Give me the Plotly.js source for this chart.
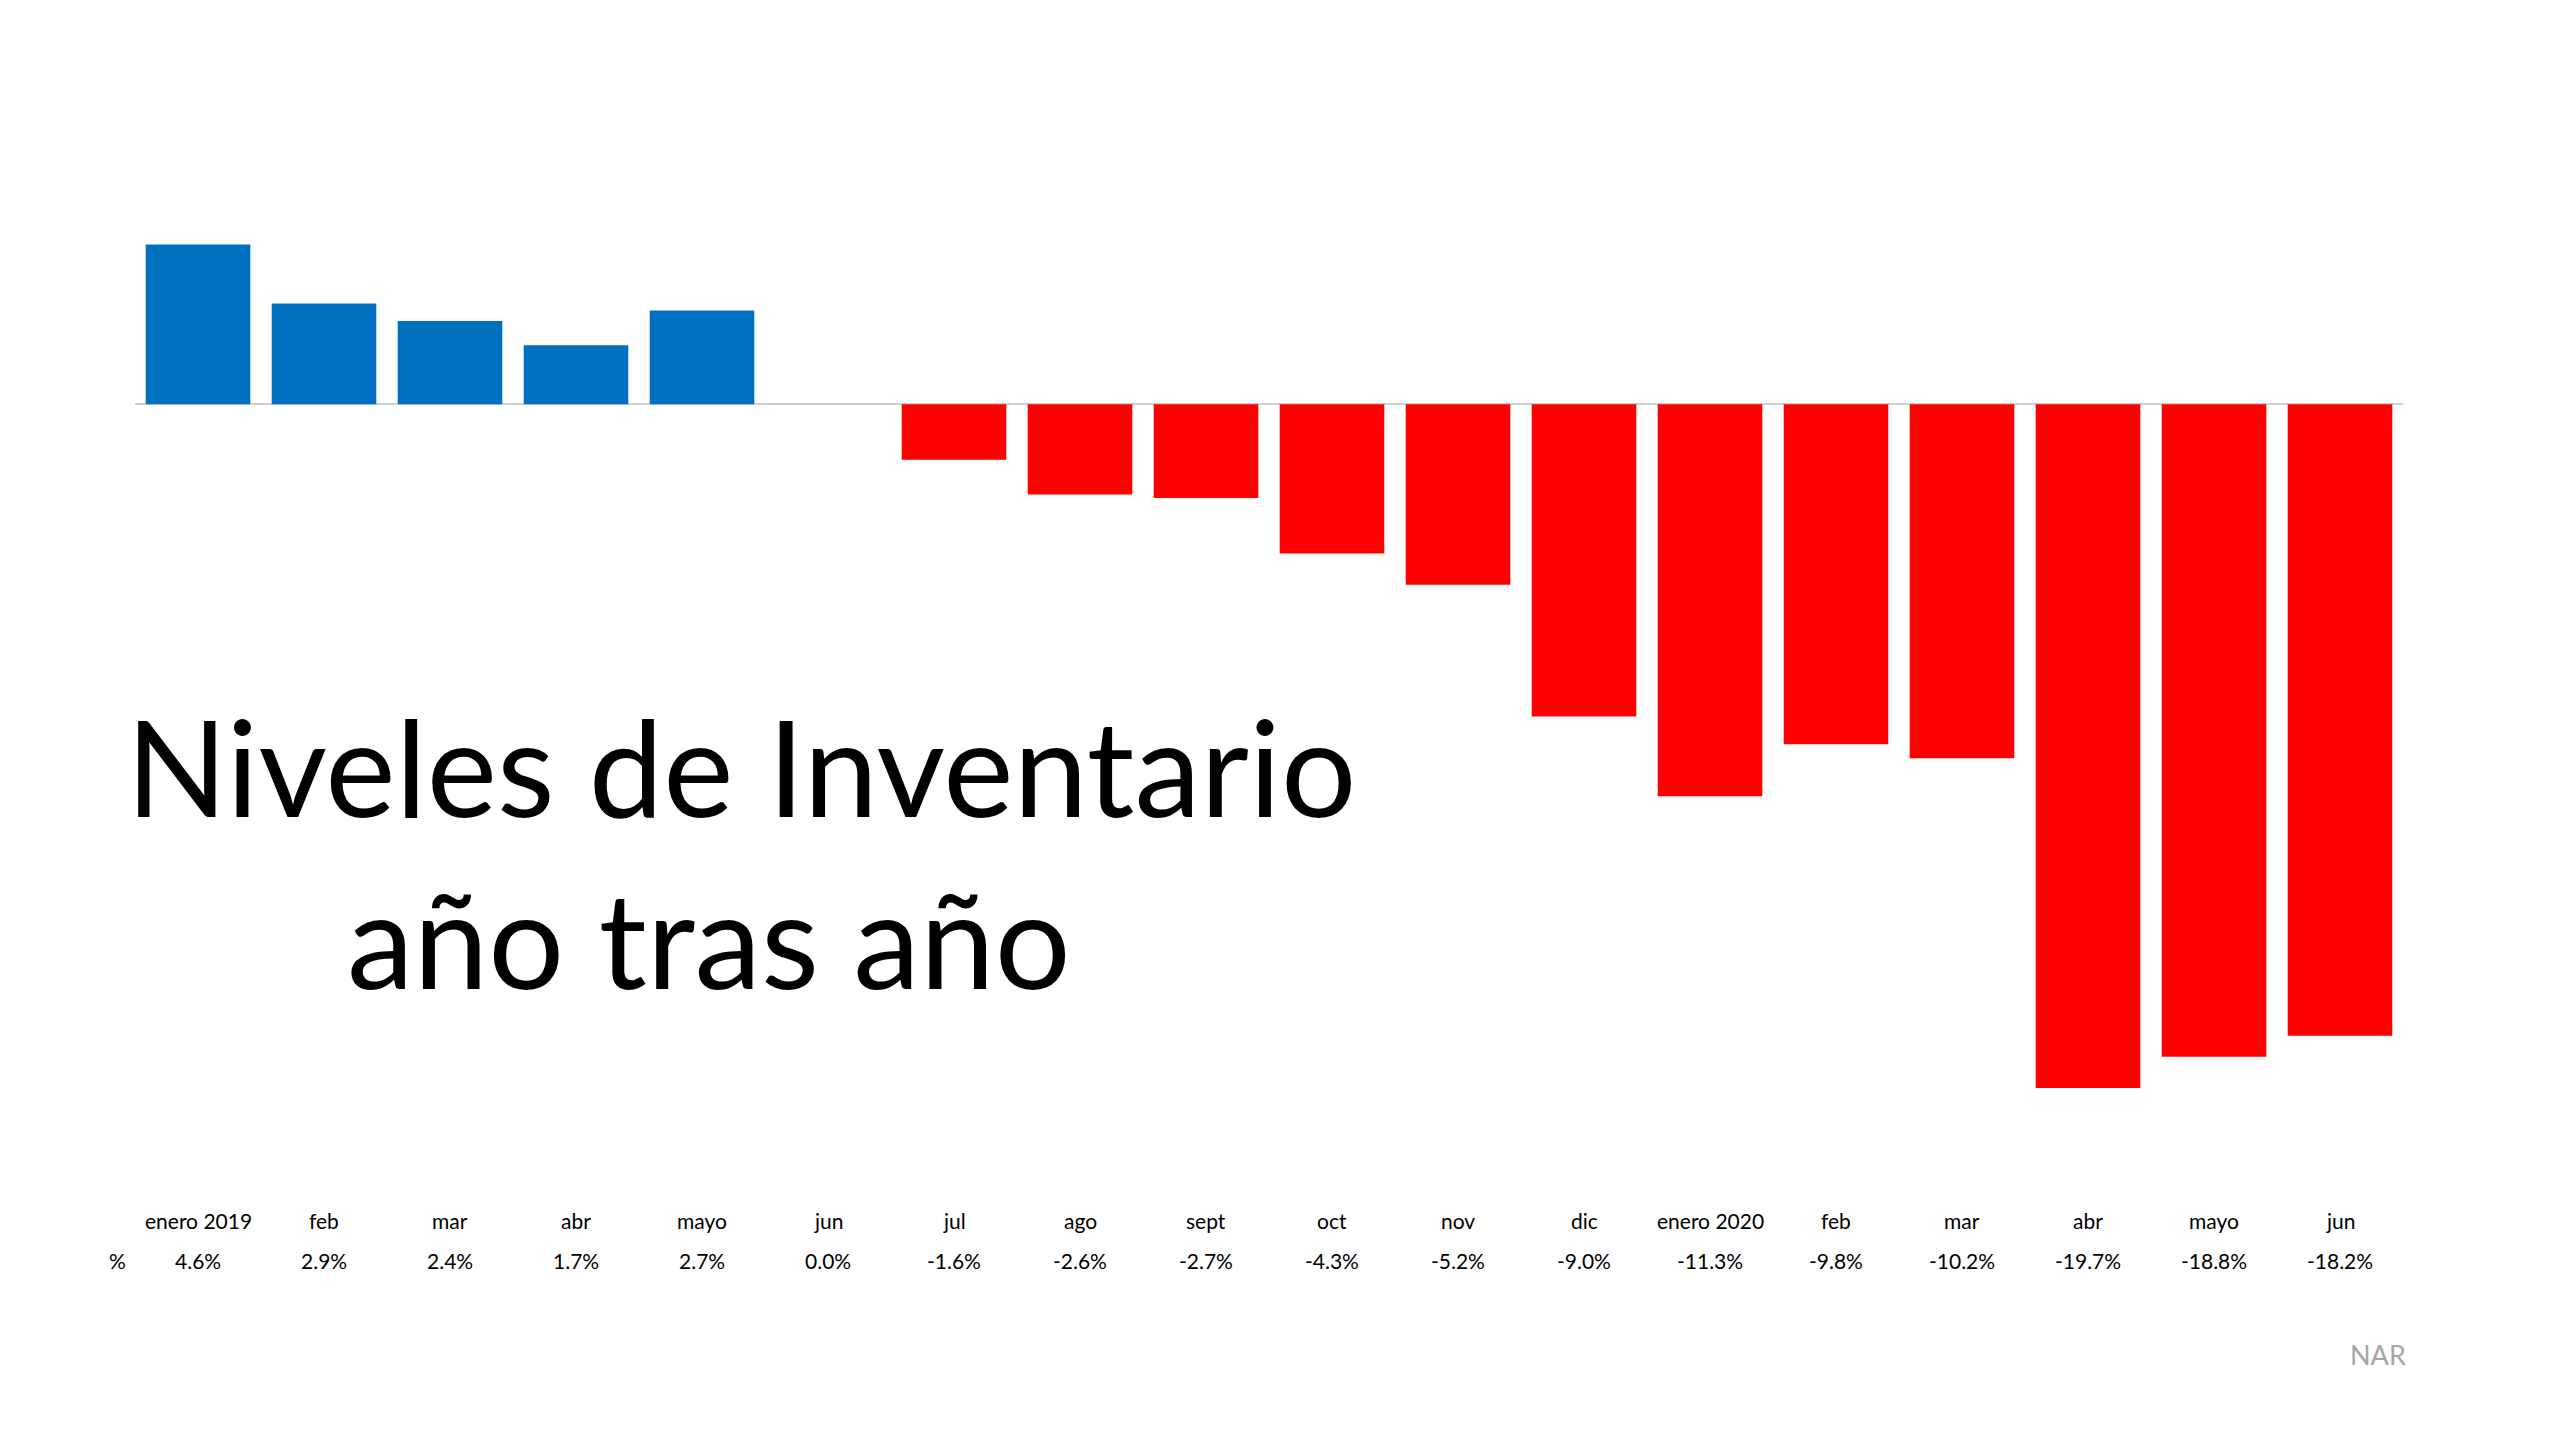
<!DOCTYPE html>
<html>
<head>
<meta charset="utf-8">
<script src="https://cdn.plot.ly/plotly-3.0.1.min.js"></script>
<style>html,body{margin:0;padding:0;background:#fff;}#chart{width:2560px;height:1440px;}</style>
</head>
<body>
<div id="chart"></div>
<script>
const months = ["enero 2019","feb","mar","abr","mayo","jun","jul","ago","sept","oct","nov","dic","enero 2020","feb ","mar ","abr ","mayo ","jun "];
const values = [4.6,2.9,2.4,1.7,2.7,0.0,-1.6,-2.6,-2.7,-4.3,-5.2,-9.0,-11.3,-9.8,-10.2,-19.7,-18.8,-18.2];
const titleLines = ["Niveles de Inventario","año tras año"];
const source = "NAR";
const rowLabel = "%";

const FONT = "Lato, 'Open Sans', sans-serif";
const idx = months.map((m,i)=>i);
const colors = values.map(v => v >= 0 ? "#0070C0" : "#FF0000");

const trace = {
  type: "bar",
  x: idx,
  y: values,
  marker: {color: colors, line: {width: 0}},
  hoverinfo: "skip"
};

const annotations = [];
months.forEach((m,i)=>{
  annotations.push({x:i, xref:"x", y:-0.0936, yref:"paper", text:m.trim(), showarrow:false,
    xanchor:"center", yanchor:"middle", font:{family:FONT, size:21, color:"#000"}});
  annotations.push({x:i, xref:"x", y:-0.1358, yref:"paper", text:values[i].toFixed(1)+"%", showarrow:false,
    xanchor:"center", yanchor:"middle", font:{family:FONT, size:21, color:"#000"}});
});
annotations.push({x:-0.0075, xref:"paper", y:-0.1358, yref:"paper", text:rowLabel, showarrow:false,
  xanchor:"center", yanchor:"middle", font:{family:FONT, size:21, color:"#000"}});
annotations.push({x:1.0023, xref:"paper", y:-0.2367, yref:"paper", text:source, showarrow:false,
  xanchor:"right", yanchor:"middle", font:{family:FONT, size:27, color:"#A6A6A6"}});
annotations.push({x:0.267, xref:"paper", y:0.392, yref:"paper", text:titleLines[0], showarrow:false,
  xanchor:"center", yanchor:"middle", font:{family:FONT, size:133, color:"#000"}});
annotations.push({x:0.2529, xref:"paper", y:0.2085, yref:"paper", text:titleLines[1], showarrow:false,
  xanchor:"center", yanchor:"middle", font:{family:FONT, size:134, color:"#000"}});

const layout = {
  width: 2560, height: 1440,
  margin: {l: 134.5, r: 157.3, t: 196.4, b: 306.7, pad: 0},
  paper_bgcolor: "#fff", plot_bgcolor: "#fff",
  showlegend: false,
  bargap: 0.17,
  xaxis: {range: [-0.5, 17.5], showticklabels: false, showgrid: false, zeroline: false, showline: false, ticks: ""},
  yaxis: {range: [-21, 6], showticklabels: false, showgrid: false, zeroline: true, zerolinecolor: "#D0D0D0", zerolinewidth: 2, showline: false, ticks: ""},
  annotations: annotations
};

Plotly.newPlot("chart", [trace], layout, {displayModeBar: false, staticPlot: true});
</script>
</body>
</html>
